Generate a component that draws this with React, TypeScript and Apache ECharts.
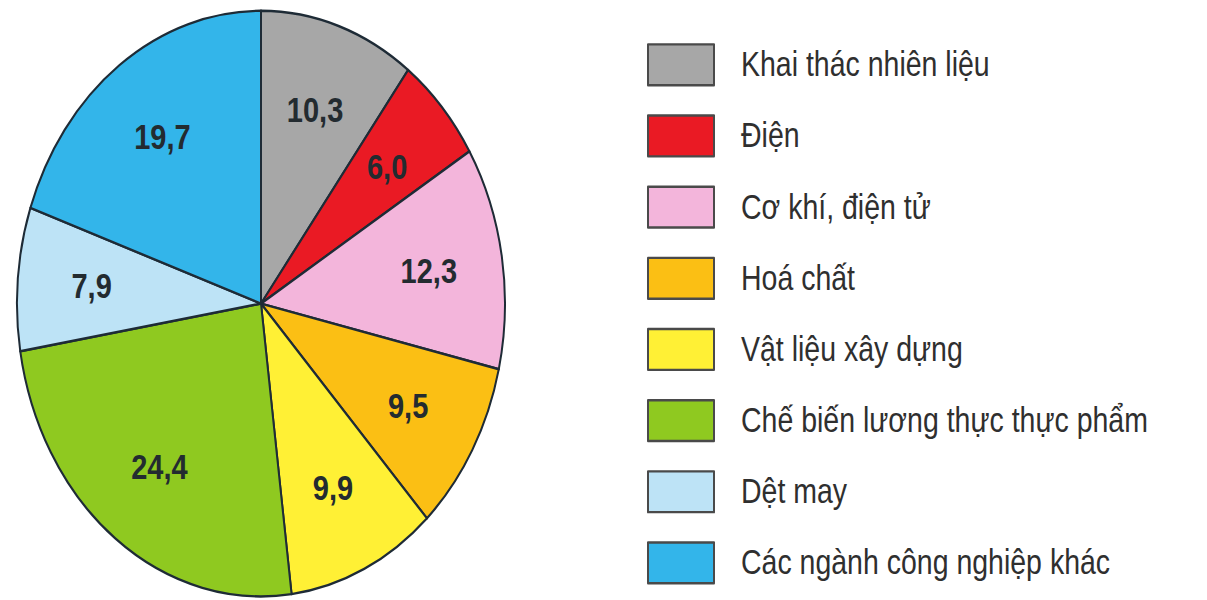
import React, { useEffect, useRef } from "react";
import * as echarts from "echarts";

const categories = [
  "Khai thác nhiên liệu",
  "Điện",
  "Cơ khí, điện tử",
  "Hoá chất",
  "Vật liệu xây dựng",
  "Chế biến lương thực thực phẩm",
  "Dệt may",
  "Các ngành công nghiệp khác",
];
const values = [10.3, 6.0, 12.3, 9.5, 9.9, 24.4, 7.9, 19.7];
const colors = [
  "#a7a7a7",
  "#ea1a24",
  "#f3b5db",
  "#fbbf14",
  "#fff035",
  "#8fc920",
  "#bde3f6",
  "#33b5ea",
];

const SCALE_Y = 1.2;
const W = 1207;
const H = 600 / SCALE_Y;
const FONT = "'Liberation Sans', Arial, sans-serif";

export default function App() {
  const ref = useRef<HTMLDivElement>(null);
  useEffect(() => {
    if (!ref.current) return;
    const chart = echarts.init(ref.current, undefined, { renderer: "svg" });
    const data = categories.map((name, i) => ({
      name,
      value: values[i],
      itemStyle: { color: colors[i] },
    }));
    chart.setOption({
      animation: false,
      backgroundColor: "#ffffff",
      legend: {
        orient: "vertical",
        left: 647,
        top: 36,
        padding: 0,
        data: categories,
        icon: "rect",
        itemWidth: 66,
        itemHeight: 34,
        itemGap: 23.3,
        itemStyle: { borderColor: "#4a4a4a", borderWidth: 2 },
        textStyle: {
          fontFamily: FONT,
          fontSize: 28.5,
          color: "#2f2f2f",
          lineHeight: 34,
          padding: [0, 0, 0, 22],
        },
      },
      series: [
        {
          type: "pie",
          center: [261, 253],
          radius: [0, 244],
          startAngle: 90,
          clockwise: true,
          data,
          silent: true,
          label: { show: false },
          labelLine: { show: false },
          itemStyle: { borderColor: "#1e2b36", borderWidth: 2 },
        },
        {
          type: "pie",
          center: [261, 253],
          radius: [90, 244],
          startAngle: 90,
          clockwise: true,
          silent: true,
          data: categories.map((name, i) => ({ name, value: values[i] })),
          itemStyle: { color: "rgba(0,0,0,0)", borderWidth: 0 },
          labelLine: { show: false },
          label: {
            show: true,
            position: "inside",
            fontFamily: FONT,
            fontSize: 29,
            fontWeight: "bold",
            color: "#232b30",
            formatter: (p: any) => Number(p.value).toFixed(1).replace(".", ","),
          },
        },
      ],
    });
    return () => chart.dispose();
  }, []);
  return (
    <div style={{ position: "absolute", left: 0, top: 0, width: W, height: 600, overflow: "hidden", background: "#fff" }}>
      <div
        ref={ref}
        style={{ width: W, height: H, transform: `scale(1, ${SCALE_Y})`, transformOrigin: "0 0" }}
      />
    </div>
  );
}
